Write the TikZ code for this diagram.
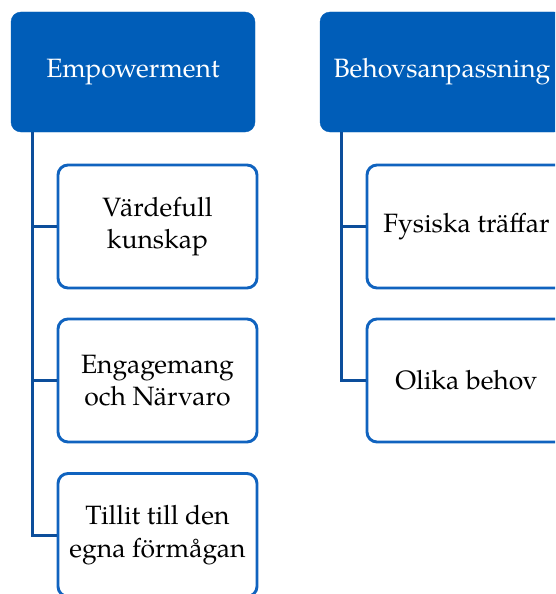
\documentclass[tikz,border=0pt]{standalone}
\usepackage{fontspec}
\setmainfont{TeX Gyre Pagella}
\definecolor{headblue}{RGB}{0,93,184}
\definecolor{edgeblue}{RGB}{16,99,191}
\definecolor{linkblue}{RGB}{12,78,155}
\begin{document}
\begin{tikzpicture}[x=1pt,y=-1pt,
  head/.style={rectangle,rounded corners=10pt,fill=headblue,draw=headblue,
    minimum width=244pt,minimum height=120pt,text=white,align=center,
    font=\fontsize{26.5}{32.5}\selectfont,inner sep=0pt},
  item/.style={rectangle,rounded corners=10pt,fill=white,draw=edgeblue,line width=2.9pt,
    minimum width=199pt,minimum height=123pt,text=black,align=center,
    font=\fontsize{26.5}{32.5}\selectfont,inner sep=0pt},
  conn/.style={draw=linkblue,line width=3pt}]
\useasboundingbox (0,0) rectangle (555,594);
\clip (0,0) rectangle (555,594);
\node[head] (emp) at (133,72) {Empowerment};
\node[head] (beh) at (442,72) {Behovsanpassning};
\node[item] (e1) at (157.5,226.5) {Värdefull\\kunskap};
\node[item] (e2) at (157.5,380.5) {Engagemang\\och Närvaro};
\node[item] (e3) at (157.5,535) {Tillit till den\\egna förmågan};
\node[item] (b1) at (466.5,226.5) {Fysiska träffar};
\node[item] (b2) at (466.5,380.5) {Olika behov};
\draw[conn] ([xshift=22pt]emp.south west) |- (e1.west);
\draw[conn] ([xshift=22pt]emp.south west) |- (e2.west);
\draw[conn] ([xshift=22pt]emp.south west) |- (e3.west);
\draw[conn] ([xshift=22pt]beh.south west) |- (b1.west);
\draw[conn] ([xshift=22pt]beh.south west) |- (b2.west);
\end{tikzpicture}
\end{document}
